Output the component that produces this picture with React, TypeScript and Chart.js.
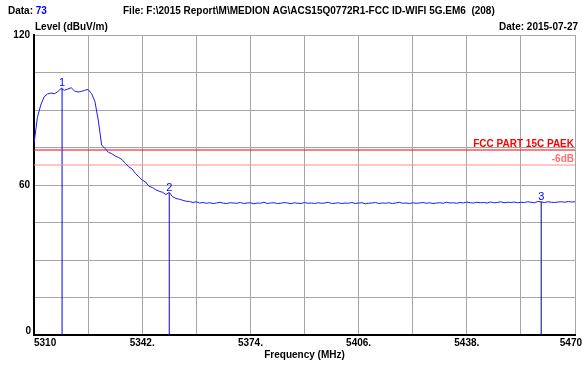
import React, { useEffect, useRef } from "react";
import { Chart, registerables } from "chart.js";

Chart.register(...registerables);

const freqStart = 5310;
const freqStep = 1;
const levels: number[] = [
  76.5, 87.0, 92.0, 95.3, 96.4, 96.8, 96.5, 97.3, 98.6, 97.9,
  98.4, 98.9, 97.6, 97.2, 97.4, 97.9, 98.2, 96.6, 93.5, 86.0,
  76.0, 74.6, 73.1, 72.5, 71.6, 71.0, 70.2, 68.7, 67.3, 66.4,
  64.6, 63.3, 62.0, 61.2, 59.5, 59.0, 58.1, 57.5, 57.1, 56.2,
  57.0, 55.3, 54.6, 54.3, 53.9, 53.5, 53.4, 53.0, 53.3, 52.8,
  53.0, 52.7, 52.9, 52.6, 52.8, 53.1, 52.7, 52.6, 52.9, 52.8,
  52.7, 53.0, 52.6, 52.8, 52.9, 52.5, 52.8, 52.7, 53.1, 52.6,
  52.8, 52.9, 52.6, 52.7, 53.0, 52.8, 52.5, 52.9, 52.7, 52.6,
  53.0, 52.7, 52.8, 52.6, 52.9, 52.7, 52.8, 53.1, 52.6, 52.7,
  52.9, 52.6, 52.8, 52.7, 53.0, 52.6, 52.8, 52.9, 52.5, 52.7,
  52.8, 53.0, 52.6, 52.8, 52.7, 52.9, 52.6, 52.8, 53.1, 52.7,
  52.8, 52.6, 52.9, 52.7, 52.8, 53.0, 52.7, 52.9, 52.6, 52.8,
  52.9, 52.7, 53.1, 52.8, 52.9, 52.7, 53.0, 52.8, 53.2, 52.9,
  52.8, 53.1, 52.9, 53.0, 52.8, 53.2, 52.9, 53.0, 53.3, 52.9,
  53.1, 53.0, 53.2, 52.9, 53.1, 53.0, 53.3, 53.1, 52.9, 53.4,
  53.2, 53.0, 53.3, 53.1, 53.0, 53.2, 53.3, 53.1, 53.4, 53.2,
  53.3,
];

const limitLevel = 74;
const limitMinus6 = 68;
const markerFreqs = [5318.3, 5350.0, 5460.0];
const markerLevels = [98.9, 57.0, 53.4];
const markerNames = ["1", "2", "3"];
const xTickLabels = ["5310", "5342.", "5374.", "5406.", "5438.", "5470"];
const xTickValues = [5310, 5342, 5374, 5406, 5438, 5470];
const yTickValues = [0, 60, 120];

const FONT = '"Liberation Sans", Arial, sans-serif';

export default function App() {
  const ref = useRef<HTMLCanvasElement>(null);
  useEffect(() => {
    document.body.style.margin = "0";
    const trace = levels.map((v, i) => ({ x: freqStart + i * freqStep, y: v }));
    const markerSets = markerFreqs.map((f, i) => ({
      data: [
        { x: f, y: 0 },
        { x: f, y: markerLevels[i] },
      ],
      borderColor: i === 2 ? "#00007a" : "#0000ff",
      borderWidth: 1,
      pointRadius: 0,
    }));
    const textPlugin = {
      id: "texts",
      afterDraw(chart: any) {
        const ctx = chart.ctx as CanvasRenderingContext2D;
        const xs = chart.scales.x;
        const ys = chart.scales.y;
        const ca = chart.chartArea;
        ctx.save();
        ctx.textBaseline = "middle";
        ctx.font = `bold 10px ${FONT}`;
        ctx.fillStyle = "#000";
        ctx.textAlign = "left";
        ctx.fillText("Data: ", 8, 11);
        const w = ctx.measureText("Data: ").width;
        ctx.fillStyle = "#0000ff";
        ctx.fillText("73", 8 + w, 11);
        ctx.fillStyle = "#000";
        ctx.fillText(
          "File: F:\\2015 Report\\M\\MEDION AG\\ACS15Q0772R1-FCC ID-WIFI 5G.EM6  (208)",
          123,
          11
        );
        ctx.fillText("Level (dBuV/m)", 35, 27);
        ctx.textAlign = "right";
        ctx.fillText("Date: 2015-07-27", 578, 27);
        // y tick labels
        yTickValues.forEach((v) => {
          const y = ys.getPixelForValue(v);
          ctx.fillText(String(v), v === 0 ? 31 : 30, v === 0 ? y - 4 : y);
        });
        // x tick labels
        xTickValues.forEach((v, i) => {
          const x = xs.getPixelForValue(v);
          if (i === 0) {
            ctx.textAlign = "left";
            ctx.fillText(xTickLabels[i], x, 343);
          } else if (i === xTickValues.length - 1) {
            ctx.textAlign = "right";
            ctx.fillText(xTickLabels[i], 582, 343);
          } else {
            ctx.textAlign = "center";
            ctx.fillText(xTickLabels[i], x, 343);
          }
        });
        ctx.textAlign = "center";
        ctx.fillText("Frequency (MHz)", (ca.left + ca.right) / 2, 355);
        // limit labels
        ctx.textAlign = "right";
        ctx.fillStyle = "#ff0000";
        ctx.fillText("FCC PART 15C PAEK", ca.right - 1, ys.getPixelForValue(limitLevel) - 6);
        ctx.fillStyle = "#ff7070";
        ctx.fillText("-6dB", ca.right - 1, ys.getPixelForValue(limitMinus6) - 6);
        // marker labels
        ctx.font = `11px ${FONT}`;
        ctx.fillStyle = "#0000ff";
        ctx.textAlign = "center";
        ctx.textBaseline = "alphabetic";
        markerFreqs.forEach((f, i) => {
          ctx.fillText(markerNames[i], xs.getPixelForValue(f), ys.getPixelForValue(markerLevels[i]) - 2);
        });
        ctx.restore();
      },
    };
    const chart = new Chart(ref.current!, {
      type: "line",
      data: {
        datasets: [
          {
            data: trace,
            borderColor: "#1a1aff",
            borderWidth: 1,
            pointRadius: 0,
          },
          {
            data: [
              { x: 5310, y: limitLevel },
              { x: 5470, y: limitLevel },
            ],
            borderColor: "#ff0000",
            borderWidth: 1.2,
            pointRadius: 0,
          },
          {
            data: [
              { x: 5310, y: limitMinus6 },
              { x: 5470, y: limitMinus6 },
            ],
            borderColor: "#ff8c8c",
            borderWidth: 1,
            pointRadius: 0,
          },
          ...markerSets,
        ] as any,
      },
      options: {
        animation: false,
        responsive: true,
        maintainAspectRatio: false,
        layout: { padding: { top: 35, right: 7, left: 0, bottom: 0 } },
        plugins: { legend: { display: false }, tooltip: { enabled: false } },
        scales: {
          x: {
            type: "linear",
            min: 5310,
            max: 5470,
            ticks: { stepSize: 16, display: false },
            grid: { color: "#a6a6a6", drawTicks: false, lineWidth: 1 },
            border: { color: "#000", width: 2 },
            afterFit: (s: any) => {
              s.height = 30;
            },
          },
          y: {
            min: 0,
            max: 120,
            ticks: { stepSize: 15, display: false },
            grid: { color: "#a6a6a6", drawTicks: false, lineWidth: 1 },
            border: { color: "#000", width: 2 },
            afterFit: (s: any) => {
              s.width = 34;
            },
          },
        },
      },
      plugins: [textPlugin],
    });
    return () => chart.destroy();
  }, []);
  return (
    <div style={{ width: 582, height: 365, position: "relative", background: "#fff" }}>
      <canvas ref={ref} />
    </div>
  );
}
